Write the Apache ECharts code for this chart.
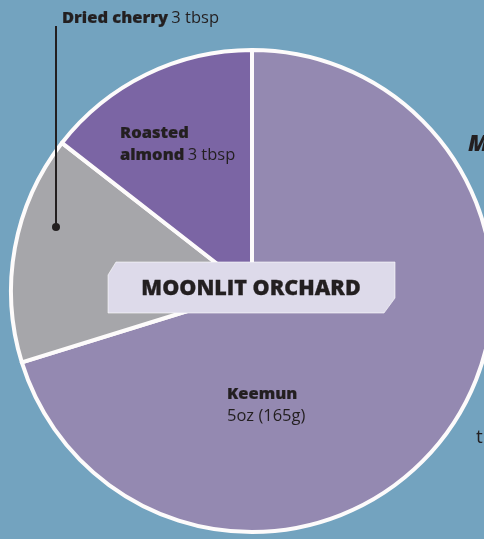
<!DOCTYPE html>
<html>
<head>
<meta charset="utf-8">
<script src="https://cdn.jsdelivr.net/npm/echarts@6/dist/echarts.min.js"></script>
<style>
  html, body { margin: 0; padding: 0; background: #73a3bf; }
  #chart { width: 484px; height: 539px; }
</style>
</head>
<body>
<div id="chart"></div>
<script>
// Blend ingredients, clockwise from twelve o'clock
const ingredients = ['Keemun', 'Dried cherry', 'Roasted almond'];
// Approximate weight of each ingredient in grams
const weights = [165, 36, 34];
// Amount text printed next to each ingredient name
const amounts = ['5oz (165g)', '3 tbsp', '3 tbsp'];
const sliceColors = ['#9489b1', '#a6a6aa', '#7b65a4'];
const blendName = 'MOONLIT ORCHARD';

const FONT = '"Open Sans", "Noto Sans", sans-serif';
const INK = '#231f20';

// Where each ingredient's label sits on the canvas
const labelSpots = {
  'Keemun':         { x: 227, y: 383 },
  'Dried cherry':   { x: 62,  y: 7 },
  'Roasted almond': { x: 120, y: 122 }
};

function labelText(name, amount) {
  if (name === 'Keemun') return '{b|' + name + '}\n{n|' + amount + '}';
  if (name === 'Roasted almond') return '{b|Roasted}\n{b|almond} {n|' + amount + '}';
  return '{b|' + name + '} {n|' + amount + '}';
}

const chart = echarts.init(document.getElementById('chart'), null, { renderer: 'canvas' });

chart.setOption({
  backgroundColor: '#73a3bf',
  animation: false,
  series: [{
    type: 'pie',
    center: [252, 291],
    radius: 241,
    startAngle: 90,
    clockwise: true,
    silent: true,
    itemStyle: { borderColor: '#fdfbfb', borderWidth: 4 },
    data: ingredients.map((name, i) => ({
      name: name,
      value: weights[i],
      itemStyle: { color: sliceColors[i] }
    })),
    label: {
      show: true,
      position: 'inside',
      formatter: p => labelText(p.name, amounts[p.dataIndex]),
      align: 'left',
      lineHeight: 22,
      rich: {
        b: {
          fontFamily: FONT, fontWeight: 800, fontSize: 16.5, color: INK, lineHeight: 22,
          textBorderColor: INK, textBorderWidth: 0.2
        },
        n: { fontFamily: FONT, fontWeight: 400, fontSize: 16.5, color: INK, lineHeight: 22 }
      }
    },
    labelLine: { show: false },
    labelLayout: p => {
      const s = labelSpots[ingredients[p.dataIndex]];
      return { x: s.x, y: s.y, align: 'left', verticalAlign: 'top' };
    }
  }],
  graphic: [
    // leader from the cherry label down into its slice
    { type: 'line', shape: { x1: 56, y1: 26, x2: 56, y2: 227 }, style: { stroke: INK, lineWidth: 2 }, z: 10 },
    { type: 'circle', shape: { cx: 56, cy: 227, r: 4 }, style: { fill: INK }, z: 10 },
    // name plate across the centre
    {
      type: 'polygon', z: 10,
      shape: { points: [[108, 275], [116, 262], [395, 262], [395, 298], [384, 313], [108, 313]] },
      style: { fill: '#dddaea', stroke: 'rgba(255,255,255,0.6)', lineWidth: 1 }
    },
    {
      type: 'text', z: 11, x: 251, y: 289,
      style: {
        text: blendName, fontFamily: FONT, fontWeight: 800, fontSize: 21.5,
        fill: INK, align: 'center', verticalAlign: 'middle',
        stroke: INK, lineWidth: 0.3
      }
    },
    // neighbouring text at the right edge
    { type: 'text', z: 11, x: 468, y: 144, style: { text: 'M', fontFamily: FONT, fontWeight: 800, fontStyle: 'italic', fontSize: 23, fill: INK, verticalAlign: 'middle' } },
    { type: 'text', z: 11, x: 476, y: 438, style: { text: 't', fontFamily: FONT, fontWeight: 400, fontSize: 19, fill: INK, verticalAlign: 'middle' } }
  ]
});
</script>
</body>
</html>
